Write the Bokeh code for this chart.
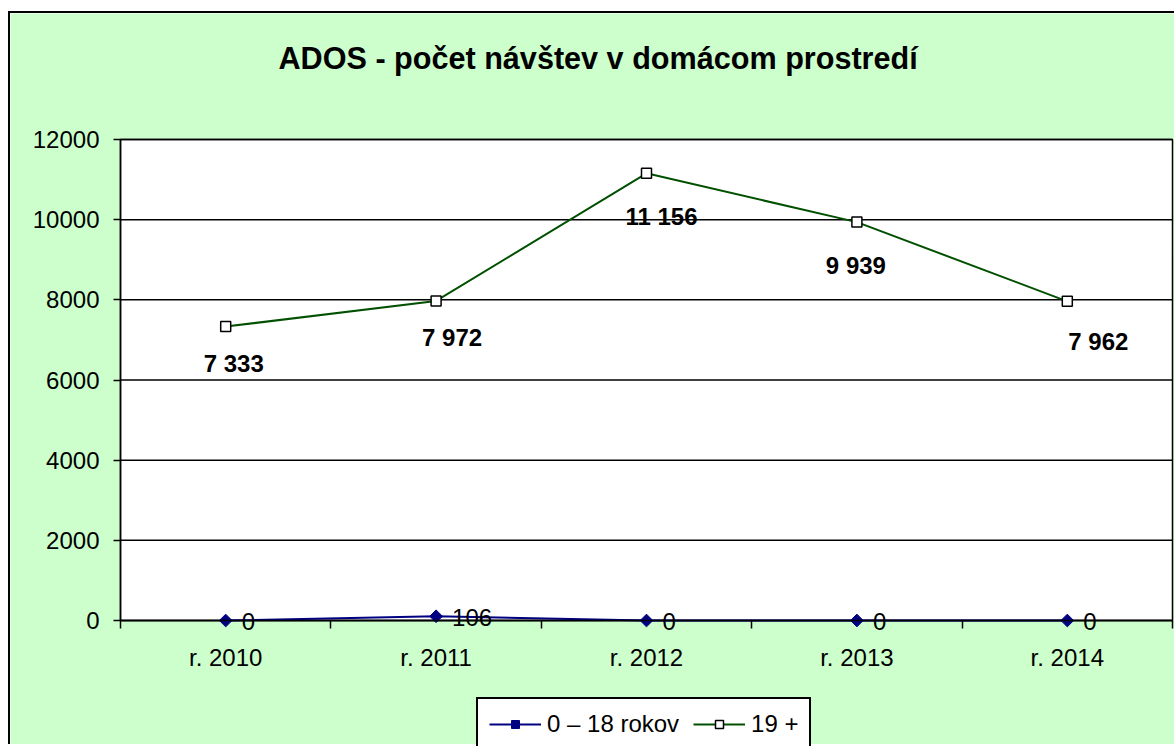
import math
from bokeh.plotting import figure
from bokeh.models import (ColumnDataSource, FixedTicker, Legend, LegendItem, Label, BoxAnnotation)
from bokeh.core.properties import value
from bokeh.embed import file_html
from bokeh.resources import INLINE

# ---- data ----
categories = ["r. 2010", "r. 2011", "r. 2012", "r. 2013", "r. 2014"]
series_young = [0, 106, 0, 0, 0]
series_adult = [7333, 7972, 11156, 9939, 7962]
label_young = ["0", "106", "0", "0", "0"]
label_adult = ["7 333", "7 972", "11 156", "9 939", "7 962"]
y_ticks = [0, 2000, 4000, 6000, 8000, 10000, 12000]
title_text = "ADOS - počet návštev v domácom prostredí"
legend_young = "0 \u2013 18 rokov"
legend_adult = "19 +"

# label offsets (pixels) for the adult series labels
adult_dx = [8, 16, 15, -1, 31]
adult_dy = [37, 37, 43, 43, 40]

FONT = "Liberation Sans"
BG = "#CCFFCC"

n = len(categories)
y_max = y_ticks[-1]
xs = [i + 0.5 for i in range(n)]

# canvas 1166 x 733 ; plot box occupies px 110..1162 (x) and 126..607 (y, from top)
W, H = 1166, 733
PX_L, PX_R, PX_T, PX_B = 110, 1162, 126, 607
ux = (PX_R - PX_L) / n
uy = (PX_B - PX_T) / y_max
x_range = (-PX_L / ux, n + (W - PX_R) / ux)
y_range = (-(H - PX_B) / uy, y_max + PX_T / uy)

p = figure(width=W, height=H, x_range=x_range, y_range=y_range, title=None,
           output_backend="svg", toolbar_location=None,
           min_border_left=0, min_border_right=0, min_border_top=0, min_border_bottom=0)
p.styles = {"border-top": "2px solid black", "border-left": "2px solid black",
            "margin-top": "11px", "margin-left": "8px"}

p.background_fill_color = BG
p.border_fill_color = BG
p.outline_line_color = None

# white plot area with black outline
plot_box = BoxAnnotation(left=0, right=n, bottom=0, top=y_max, fill_color="white", fill_alpha=1,
                         line_color="black", line_alpha=1, line_width=1.5, level="underlay")
p.add_layout(plot_box)

p.xgrid.grid_line_color = None
p.ygrid.grid_line_color = None
p.segment(x0=0, x1=n, y0=y_ticks, y1=y_ticks, line_color="black", line_width=1.5)

# axes
p.xaxis.fixed_location = 0
p.xaxis.bounds = (0, n)
p.xaxis.ticker = FixedTicker(ticks=xs, minor_ticks=list(range(n + 1)))
p.xaxis.major_label_overrides = {x: c for x, c in zip(xs, categories)}
p.xaxis.major_tick_line_color = None
p.xaxis.major_tick_out = 8
p.xaxis.minor_tick_out = 8
p.xaxis.minor_tick_in = 0
p.xaxis.minor_tick_line_color = "black"
p.xaxis.minor_tick_line_width = 1.5
p.xaxis.axis_line_color = "black"
p.xaxis.axis_line_width = 1.5
p.xaxis.major_label_standoff = 15
p.xaxis.major_label_text_font = FONT
p.xaxis.major_label_text_font_size = "24px"
p.xaxis.major_label_text_color = "black"

p.yaxis.fixed_location = 0
p.yaxis.bounds = (0, y_max)
p.yaxis.ticker = FixedTicker(ticks=y_ticks, minor_ticks=[])
p.yaxis.major_tick_out = 7
p.yaxis.major_tick_in = 0
p.yaxis.major_tick_line_color = "black"
p.yaxis.major_tick_line_width = 1.5
p.yaxis.axis_line_color = "black"
p.yaxis.axis_line_width = 1.5
p.yaxis.major_label_standoff = 14
p.yaxis.major_label_text_font = FONT
p.yaxis.major_label_text_font_size = "24px"
p.yaxis.major_label_text_color = "black"

src = ColumnDataSource(dict(x=xs, young=series_young, adult=series_adult,
                            ly=label_young, la=label_adult, dx=adult_dx, dy=adult_dy))

# adult series
l_adult = p.line("x", "adult", source=src, line_color="#005000", line_width=2)
m_adult = p.scatter("x", "adult", source=src, marker="square", size=10,
                    fill_color="white", line_color="black", line_width=1.5)
# young series
l_young = p.line("x", "young", source=src, line_color="#000080", line_width=2)
m_young = p.scatter("x", "young", source=src, marker="square", angle=math.pi / 4, size=9,
                    fill_color="#000080", line_color="#000080", line_width=1)

p.text("x", "young", text="ly", source=src, x_offset=16, y_offset=1,
       text_font=value(FONT), text_font_size="24px", text_color="black",
       text_align="left", text_baseline="middle")
p.text("x", "adult", text="la", source=src, x_offset="dx", y_offset="dy",
       text_font=value(FONT), text_font_size="24px", text_font_style="bold",
       text_color="black", text_align="center", text_baseline="middle")

legend = Legend(items=[LegendItem(label=legend_young, renderers=[l_young, m_young]),
                       LegendItem(label=legend_adult, renderers=[l_adult, m_adult])],
                orientation="horizontal", location=(466, -5),
                glyph_width=52, glyph_height=20, label_standoff=6, spacing=14,
                padding=11, margin=0,
                label_text_font=FONT, label_text_font_size="24px", label_text_color="black",
                border_line_color="black", border_line_alpha=1.0, border_line_width=2,
                background_fill_color="white", background_fill_alpha=1.0)
p.add_layout(legend, "center")

title = Label(x=268, y=H - 44, x_units="screen", y_units="screen", text=title_text,
              text_font=FONT, text_font_size="30.6px", text_font_style="bold",
              text_color="black", text_baseline="alphabetic", text_align="left")
p.add_layout(title)

open("out.html", "w").write(file_html(p, INLINE))
